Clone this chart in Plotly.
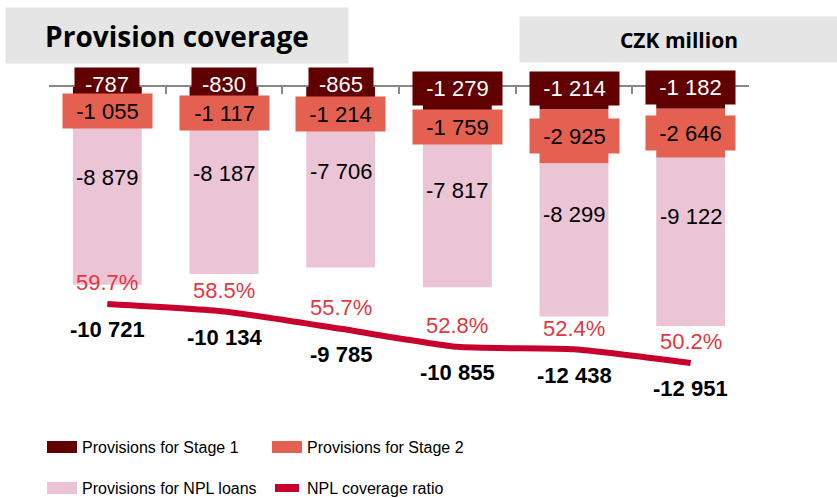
import plotly.graph_objects as go

# values (CZK million, provisions shown as negatives)
periods = ["P1", "P2", "P3", "P4", "P5", "P6"]
stage1 = [-787, -830, -865, -1279, -1214, -1182]
stage2 = [-1055, -1117, -1214, -1759, -2925, -2646]
npl_loans = [-8879, -8187, -7706, -7817, -8299, -9122]
totals = [-10721, -10134, -9785, -10855, -12438, -12951]
coverage = [59.7, 58.5, 55.7, 52.8, 52.4, 50.2]

C_STAGE1 = "#600000"
C_STAGE2 = "#E46050"
C_NPL = "#EBC4D6"
C_LINE = "#C8002D"
C_PCT = "#E4373F"
LABEL_FONT = "Liberation Sans, Arial, sans-serif"

W, H = 837, 498
ML, MR, MT, MB = 49, 88, 87, 98
PW, PH = W - ML - MR, H - MT - MB


def fmt(v):
    return f"{v:,}".replace(",", " ")


def px_x(px):
    return (px - ML) / PW


def px_y(py):
    return (H - MB - py) / PH


fig = go.Figure()

fig.add_trace(go.Bar(x=periods, y=stage1, name="Provisions for Stage 1",
                     marker_color=C_STAGE1, marker_line_width=0))
fig.add_trace(go.Bar(x=periods, y=stage2, name="Provisions for Stage 2",
                     marker_color=C_STAGE2, marker_line_width=0))
fig.add_trace(go.Bar(x=periods, y=npl_loans, name="Provisions for NPL loans",
                     marker_color=C_NPL, marker_line_width=0))
fig.add_trace(go.Scatter(x=periods, y=coverage, name="NPL coverage ratio",
                         yaxis="y2", mode="lines",
                         line=dict(color=C_LINE, width=6, shape="spline",
                                   smoothing=0.5)))

annotations = []
for i, p in enumerate(periods):
    s1, s2, n = stage1[i], stage2[i], npl_loans[i]
    # stage 1 label, boxed in bar colour
    t1 = fmt(s1)
    annotations.append(dict(
        x=p, y=s1 / 2, xref="x", yref="y", text=t1, showarrow=False,
        yshift=10, bgcolor=C_STAGE1, width=14 + 12.5 * len(t1), height=33,
        borderpad=0, font=dict(family=LABEL_FONT, size=22, color="white")))
    # stage 2 label
    t2 = fmt(s2)
    annotations.append(dict(
        x=p, y=s1 + s2 / 2, xref="x", yref="y", text=t2, showarrow=False,
        bgcolor=C_STAGE2, width=14 + 12.5 * len(t2), height=34,
        borderpad=0, font=dict(family=LABEL_FONT, size=22, color="black")))
    # NPL label
    annotations.append(dict(
        x=p, y=s1 + s2 + n / 2, xref="x", yref="y", text=fmt(n),
        showarrow=False, yshift=25,
        font=dict(family=LABEL_FONT, size=22, color="black")))
    # coverage ratio label
    annotations.append(dict(
        x=p, y=coverage[i], xref="x", yref="y2", text=f"{coverage[i]:.1f}%",
        showarrow=False, yshift=21,
        font=dict(family=LABEL_FONT, size=22, color=C_PCT)))
    # total label
    annotations.append(dict(
        x=p, y=coverage[i], xref="x", yref="y2", text=f"<b>{fmt(totals[i])}</b>",
        showarrow=False, yshift=-26,
        font=dict(family=LABEL_FONT, size=22, color="black")))

# title boxes
annotations.append(dict(
    x=px_x(5), y=px_y(7), xref="paper", yref="paper", xanchor="left",
    yanchor="top", text="<b>Provision coverage</b>", showarrow=False,
    width=342, height=55, borderpad=0, bgcolor="#E5E5E5",
    font=dict(family="Open Sans", size=28, color="black")))
annotations.append(dict(
    x=px_x(519), y=px_y(16), xref="paper", yref="paper", xanchor="left",
    yanchor="top", text="<b>CZK million</b>", showarrow=False,
    width=318, height=45, borderpad=0, bgcolor="#E5E5E5",
    font=dict(family="Open Sans", size=21, color="black")))

# legend drawn by hand: wide swatches in two columns
legend_items = [
    ("Provisions for Stage 1", C_STAGE1, "bar", 47, 447),
    ("Provisions for Stage 2", C_STAGE2, "bar", 272, 447),
    ("Provisions for NPL loans", C_NPL, "bar", 47, 488),
    ("NPL coverage ratio", C_LINE, "line", 272, 488),
]
shapes = []
for name, color, kind, lx, ly in legend_items:
    if kind == "bar":
        shapes.append(dict(type="rect", xref="paper", yref="paper",
                           x0=px_x(lx), x1=px_x(lx + 30),
                           y0=px_y(ly - 6), y1=px_y(ly + 6),
                           fillcolor=color, line_width=0))
    else:
        shapes.append(dict(type="line", xref="paper", yref="paper",
                           x0=px_x(lx + 3), x1=px_x(lx + 27),
                           y0=px_y(ly), y1=px_y(ly),
                           line=dict(color=color, width=8)))
    annotations.append(dict(
        x=px_x(lx + 33), y=px_y(ly), xref="paper", yref="paper",
        xanchor="left", yanchor="middle", text=name, showarrow=False,
        font=dict(family=LABEL_FONT, size=16, color="black")))

fig.update_layout(
    width=W, height=H,
    margin=dict(l=ML, r=MR, t=MT, b=MB, pad=0),
    barmode="relative", bargap=0.41,
    plot_bgcolor="white", paper_bgcolor="white",
    showlegend=False,
    xaxis=dict(
        type="category", side="top", showline=True, linecolor="#888888",
        linewidth=1.5, ticks="inside", ticklen=7, tickcolor="#888888",
        tickwidth=1.5, tickson="boundaries", showticklabels=False,
        showgrid=False, zeroline=False,
    ),
    yaxis=dict(range=[-16960, 0], visible=False),
    yaxis2=dict(range=[44.24, 94.64], overlaying="y", visible=False),
    annotations=annotations,
    shapes=shapes,
)

# drop the browser's default page margin so the chart sits at the corner
fig.write_html("out.html", config={"displayModeBar": False},
               post_script="document.body.style.margin='0';")
